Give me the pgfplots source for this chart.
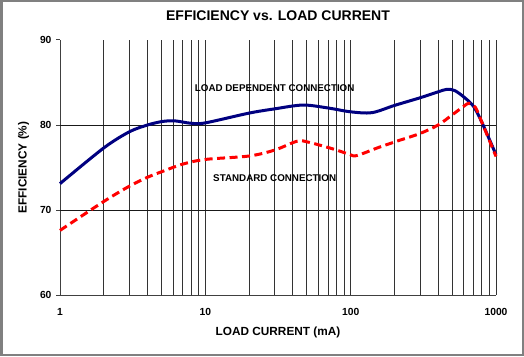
\documentclass[border=0pt]{standalone}
\usepackage{pgfplots}
\pgfplotsset{compat=1.18}
\usepackage{fontspec}
\setmainfont{Liberation Sans}
\definecolor{navyline}{HTML}{000080}
\definecolor{redline}{HTML}{FF0000}
\definecolor{frame}{HTML}{808080}
\begin{document}
\begin{tikzpicture}[x=1pt,y=1pt]
\useasboundingbox (0,0) rectangle (524,356);
\draw[color=frame, line width=2.5pt] (1.25,1.25) rectangle (522.75,354.75);
\begin{axis}[
  at={(60pt,61pt)}, anchor=south west,
  scale only axis, width=436pt, height=255pt,
  xmode=log, xmin=1, xmax=1000, ymin=60, ymax=90,
  axis x line=bottom, axis y line=left,
  axis line style={-, black!75, line width=1pt},
  xtick={1,10,100,1000}, xticklabels={1,10,100,1000},
  ytick={60,70,80,90}, yticklabels={60,70,80,90},
  extra y ticks={70,80}, extra y tick labels={},
  extra y tick style={grid=major, major grid style={black!90, line width=1pt}},
  xmajorgrids, xminorgrids,
  major grid style={black!80, line width=1pt},
  minor grid style={black!80, line width=1pt},
  tick align=outside,
  major tick length=4pt, minor tick length=0pt,
  xtick style={draw=none},
  ytick style={black!75, line width=1pt},
  /pgf/number format/assume math mode=true,
  tick label style={font=\bfseries\fontsize{10.3}{12}\selectfont},
  xticklabel style={yshift=-6pt},
  yticklabel style={xshift=-1pt},
  title={EFFICIENCY vs. LOAD CURRENT},
  title style={font=\bfseries\fontsize{14}{16}\selectfont, at={(axis description cs:0.5,1.0522)}, anchor=base},
  xlabel={LOAD CURRENT (mA)},
  xlabel style={font=\bfseries\fontsize{11.8}{14}\selectfont, at={(axis description cs:0.5,-0.1569)}, anchor=base},
  ylabel={EFFICIENCY (\%)},
  ylabel style={font=\bfseries\fontsize{11.8}{14}\selectfont, at={(axis description cs:-0.0764,0.5)}, anchor=base},
  clip=false,
]
\addplot[navyline, line width=3pt, smooth, tension=0.5] coordinates {
 (1,73.1) (2,77.3) (3,79.2) (4,80.0) (5,80.4) (6,80.5) (7,80.35) (8,80.2) (10,80.25)
 (20,81.4) (30,81.9) (47,82.35) (70,82.0) (100,81.55) (140,81.45) (200,82.3)
 (300,83.2) (400,83.9) (460,84.2) (520,84.05) (600,83.3) (700,82.2) (800,80.3) (1000,76.5)
};
\addplot[redline, line width=3pt, dash pattern=on 8pt off 4.5pt, smooth, tension=0.5] coordinates {
 (1,67.6) (2,71.0) (3,72.8) (4,73.85) (5,74.5) (7,75.4) (10,75.95) (20,76.35)
 (30,77.05) (43,78.1) (52,77.95) (75,77.2) (98,76.55) (110,76.4) (158,77.4)
 (217,78.2) (300,79.0) (400,80.0) (500,81.2) (600,82.2) (650,82.55) (720,82.1) (800,80.3) (1000,76.3)
};
\node[font=\bfseries\fontsize{9.8}{12}\selectfont] at (axis cs:30,84.3) {LOAD DEPENDENT CONNECTION};
\node[font=\bfseries\fontsize{9.8}{12}\selectfont] at (axis cs:30,73.73) {STANDARD CONNECTION};
\end{axis}
\end{tikzpicture}
\end{document}
